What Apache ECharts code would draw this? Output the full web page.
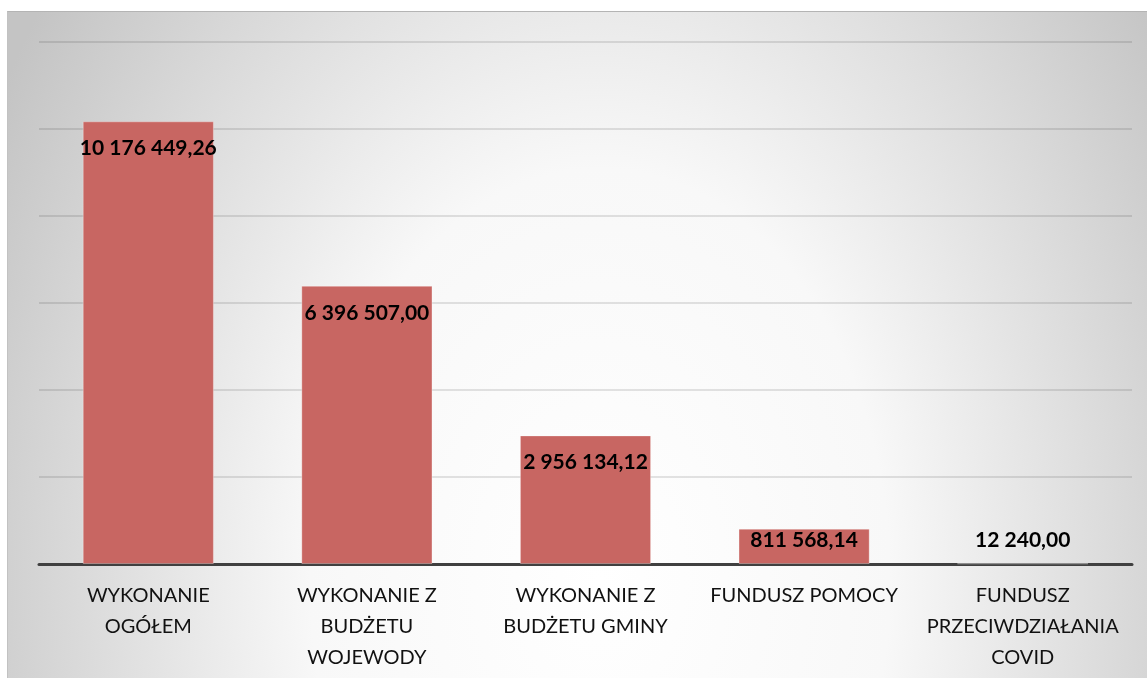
<!DOCTYPE html>
<html>
<head>
<meta charset="utf-8">
<script src="https://cdn.jsdelivr.net/npm/echarts@6/dist/echarts.min.js"></script>
<style>
  html, body { margin: 0; padding: 0; background: #ffffff; width: 1147px; height: 678px; overflow: hidden; }
  #frame { position: absolute; left: 7px; top: 11px; width: 1140px; height: 667px;
           border-top: 1px solid #b4b4b4; border-left: 1px solid #c2c2c2; box-sizing: border-box; }
  #chart { position: absolute; left: 8px; top: 12px; width: 1139px; height: 666px;
           background: radial-gradient(ellipse 690px 980px at 592px 568px, #ffffff 0%, #f8f8f8 42%, #c4c4c4 100%); }
</style>
</head>
<body>
<div id="frame"></div>
<div id="chart"></div>
<script>
const categories = ['WYKONANIE\nOGÓŁEM', 'WYKONANIE Z\nBUDŻETU\nWOJEWODY', 'WYKONANIE Z\nBUDŻETU GMINY', 'FUNDUSZ POMOCY', 'FUNDUSZ\nPRZECIWDZIAŁANIA\nCOVID'];
const values = [10176449.26, 6396507.00, 2956134.12, 811568.14, 12240.00];
const yMin = 0;
const yMax = 12000000;
const yInterval = 2000000;

function plFormat(v) {
  const parts = v.toFixed(2).split('.');
  const intPart = parts[0].replace(/\B(?=(\d{3})+(?!\d))/g, ' ');
  return intPart + ',' + parts[1];
}

const labelBase = { show: true, color: '#000000', fontFamily: 'Lato', fontWeight: 'bold', fontSize: 21, lineHeight: 20, formatter: p => plFormat(p.value) };

const seriesData = values.map(v => ({
  value: v,
  label: v < 1500000
    ? Object.assign({}, labelBase, { position: 'insideBottom', distance: 14 })
    : Object.assign({}, labelBase, { position: 'insideTop', distance: 17 })
}));

const chart = echarts.init(document.getElementById('chart'), null, { renderer: 'canvas' });
chart.setOption({
  backgroundColor: 'transparent',
  animation: false,
  grid: { left: 31, right: 15, top: 30, bottom: 114 },
  xAxis: {
    type: 'category',
    data: categories,
    axisLine: { show: true, lineStyle: { color: '#404040', width: 3 } },
    axisTick: { show: false },
    axisLabel: { color: '#111111', fontFamily: 'Lato', fontSize: 20, lineHeight: 31, margin: 16, interval: 0 }
  },
  yAxis: {
    type: 'value',
    min: yMin, max: yMax, interval: yInterval,
    axisLine: { show: false },
    axisTick: { show: false },
    axisLabel: { show: false },
    splitLine: { show: true, lineStyle: { color: 'rgba(0,0,0,0.14)', width: 1.5 } }
  },
  series: [{
    type: 'bar',
    data: seriesData,
    barCategoryGap: '40%',
    itemStyle: { color: '#C86662', borderColor: 'rgba(255,255,255,0.3)', borderWidth: 1 }
  }]
});
</script>
</body>
</html>
